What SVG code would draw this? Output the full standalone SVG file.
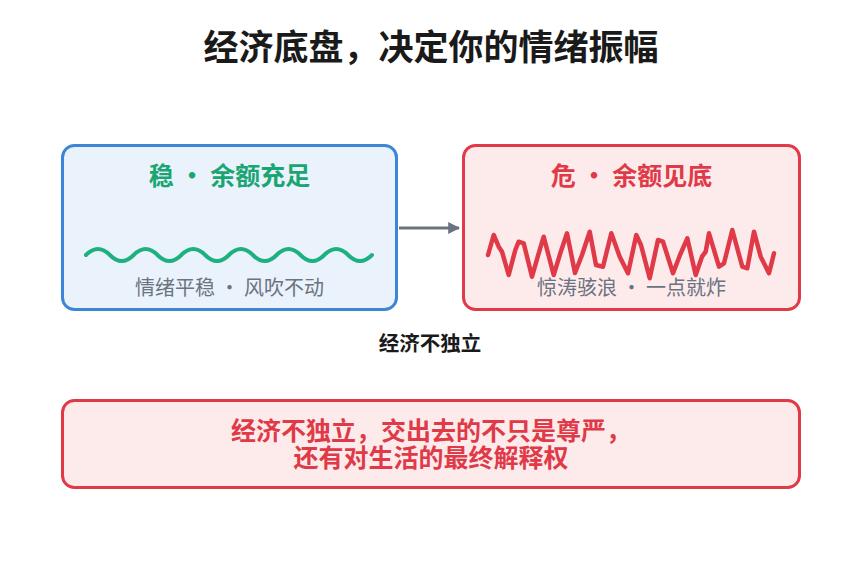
<svg xmlns="http://www.w3.org/2000/svg" width="860" height="578" viewBox="0 0 860 578">
<style>
text{font-family:"Noto Sans CJK SC","Noto Sans",sans-serif;text-anchor:middle}
.title{font-size:35px;font-weight:700;fill:#1a1a1a}
.ht{font-size:25px;font-weight:700}
.sub{font-size:20px;fill:#6b7280}
.lbl{font-size:20.5px;font-weight:700;fill:#1a1a1a}
.bt{font-size:25px;font-weight:700;fill:#e03a48}
</style>
<defs>
<marker id="ah" viewBox="0 0 10 10" refX="9" refY="5" markerWidth="4" markerHeight="4" orient="auto" markerUnits="strokeWidth">
<path d="M0,0 L10,5 L0,10 z" fill="#6b7280"/>
</marker>
</defs>
<rect width="860" height="578" fill="#ffffff"/>
<text class="title" x="431" y="60">经济底盘，决定你的情绪振幅</text>
<g id="stable">
<rect x="62.5" y="145.5" width="334" height="164" rx="12" fill="#eaf2fb" stroke="#3d85d6" stroke-width="3"/>
<text class="ht" x="229.5" y="185" fill="#19a673">稳 · 余额充足</text>
<path d="M86,255 q11.92,-12 23.83,0 t23.83,0 t23.83,0 t23.83,0 t23.83,0 t23.83,0 t23.83,0 t23.83,0 t23.83,0 t23.83,0 t23.83,0 t23.83,0" fill="none" stroke="#1fb07f" stroke-width="4" stroke-linecap="round"/>
<text class="sub" x="229.5" y="295">情绪平稳 · 风吹不动</text>
</g>
<g id="danger">
<rect x="463.5" y="145.5" width="336" height="164" rx="12" fill="#fdebec" stroke="#e03a48" stroke-width="3"/>
<text class="ht" x="631.5" y="185" fill="#e03a48">危 · 余额见底</text>
<text class="sub" x="631.5" y="295">惊涛骇浪 · 一点就炸</text>
<polyline points="488,255 493.7,235 498.7,246.7 502,251.7 508.7,275 515.3,250 518.7,241.7 523.7,243.3 532,276.7 538.7,253.3 543.7,236.7 553.7,275 560.3,253.3 567,233.3 575,273 582,255 589.7,231.7 596,265 603,266.7 611.3,233.3 619.7,256.7 628,273.3 636.3,235 641,245 649.7,278.3 658,240 663,241.7 673,273.3 680,255 687.3,238.3 695.7,275 702,256.7 705.7,251.7 709,233.3 719,266.7 724,263.3 732.3,230 742.3,266.7 747.3,268.3 754,231.7 760.7,256.7 769,273.3 774,253.3" fill="none" stroke="#e03a48" stroke-width="4.5" stroke-linejoin="round" stroke-linecap="round"/>
</g>
<g id="connectors">
<line x1="399" y1="228" x2="459" y2="228" stroke="#6b7280" stroke-width="3" marker-end="url(#ah)"/>
</g>
<text class="lbl" x="430" y="351">经济不独立</text>
<g id="conclusion">
<rect x="62.5" y="400.5" width="737" height="87" rx="12" fill="#fdebec" stroke="#e03a48" stroke-width="3"/>
<text class="bt"><tspan x="431" y="440">经济不独立，交出去的不只是尊严，</tspan><tspan x="431" y="467">还有对生活的最终解释权</tspan></text>
</g>
</svg>
